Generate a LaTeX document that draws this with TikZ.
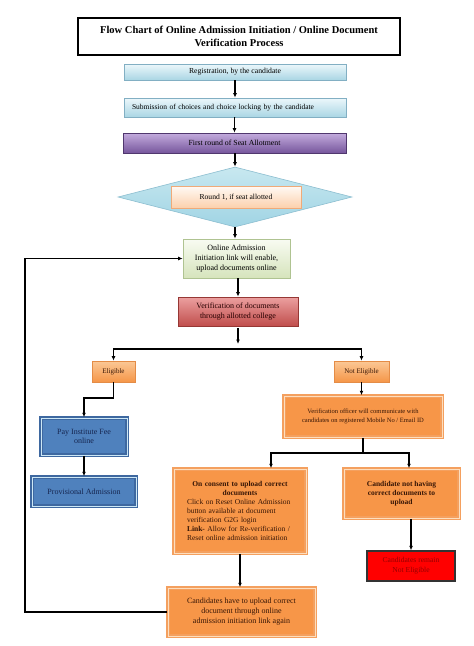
\documentclass[tikz,border=0pt]{standalone}
\usepackage{fontspec}
\setmainfont{Liberation Serif}
\usetikzlibrary{arrows.meta,shapes.geometric}
\definecolor{lbT}{RGB}{236,247,251}
\definecolor{lbM}{RGB}{170,214,228}
\definecolor{lbB}{RGB}{130,175,195}
\definecolor{puT}{RGB}{196,172,222}
\definecolor{puM}{RGB}{118,86,156}
\definecolor{puB}{RGB}{80,55,110}
\definecolor{diT}{RGB}{200,232,240}
\definecolor{diM}{RGB}{160,212,228}
\definecolor{diB}{RGB}{140,190,208}
\definecolor{peT}{RGB}{255,250,245}
\definecolor{peM}{RGB}{251,208,172}
\definecolor{peB}{RGB}{240,170,120}
\definecolor{grT}{RGB}{248,251,242}
\definecolor{grM}{RGB}{214,228,188}
\definecolor{grB}{RGB}{175,195,145}
\definecolor{rdT}{RGB}{236,160,160}
\definecolor{rdM}{RGB}{192,78,76}
\definecolor{rdB}{RGB}{150,55,52}
\definecolor{orT}{RGB}{251,200,150}
\definecolor{orM}{RGB}{245,150,72}
\definecolor{orB}{RGB}{228,140,70}
\definecolor{orF}{RGB}{247,150,72}
\definecolor{orD}{RGB}{244,160,95}
\definecolor{orL}{RGB}{253,222,190}
\definecolor{orTxt}{RGB}{55,22,6}
\definecolor{blF}{RGB}{79,129,189}
\definecolor{blD}{RGB}{62,104,160}
\definecolor{blL}{RGB}{205,232,246}
\definecolor{blTxt}{RGB}{22,38,80}
\definecolor{rmTxt}{RGB}{150,0,0}
\begin{document}
\begin{tikzpicture}[x=1pt,y=-1pt,
  base/.style={rectangle, inner sep=2pt, align=center, text=black},
  arr/.style={-{Latex[length=4.5pt,width=3.8pt]}, line width=1.3pt, draw=black},
  ln/.style={line width=1.3pt, draw=black},
  titlebox/.style={base, draw=black, line width=1.8pt, font=\fontsize{10.5}{13.5}\selectfont\bfseries},
  cyanbox/.style={base, draw=lbB, line width=0.6pt, top color=lbT, bottom color=lbM, font=\fontsize{7.7}{9.5}\selectfont},
  purplebox/.style={base, draw=puB, line width=0.6pt, top color=puT, bottom color=puM, font=\fontsize{7.8}{9.5}\selectfont},
  dia/.style={diamond, draw=diB, line width=0.6pt, top color=diT, bottom color=diM, inner sep=0pt},
  peachbox/.style={base, draw=peB, line width=0.8pt, top color=peT, bottom color=peM, font=\fontsize{7.6}{9.5}\selectfont},
  greenbox/.style={base, draw=grB, line width=0.6pt, top color=grT, bottom color=grM, font=\fontsize{8}{10}\selectfont},
  redgbox/.style={base, draw=rdB, line width=0.6pt, top color=rdT, bottom color=rdM, font=\fontsize{8}{10}\selectfont, text=black!85!red},
  osmall/.style={base, draw=orB, line width=0.6pt, top color=orT, bottom color=orM, font=\fontsize{7}{9}\selectfont, text=orTxt},
  obox/.style={base, fill=orF, draw=orD, line width=1.5pt, double=orL, double distance=0.7pt, text=orTxt},
  bbox/.style={base, fill=blF, draw=blD, line width=1.5pt, double=blL, double distance=0.8pt, text=blTxt, font=\fontsize{8}{9.5}\selectfont},
  remainbox/.style={base, fill=red, draw=black!80, line width=1.2pt, text=rmTxt, font=\fontsize{7.6}{10}\selectfont}
]
\useasboundingbox[fill=white] (0,0) rectangle (474,646);

\node[titlebox, minimum width=322pt, minimum height=37pt] (title) at (239,36.5)
  {Flow Chart of Online Admission Initiation / Online Document\\Verification Process};

\node[cyanbox, minimum width=222pt, minimum height=16pt] (reg) at (235,72) {Registration, by the candidate};
\node[cyanbox, minimum width=222pt, minimum height=19pt, text width=206pt, inner xsep=8pt, align=left, font=\fontsize{7.5}{9.5}\selectfont] (sub) at (235,107.5)
  {Submission of choices and choice locking by the candidate};
\node[purplebox, minimum width=223pt, minimum height=20pt] (first) at (234.5,143) {First round of Seat Allotment};
\node[dia, minimum width=234pt, minimum height=60pt] (dmd) at (235,197) {};
\node[peachbox, minimum width=130pt, minimum height=22pt] (round) at (236,197) {Round 1, if seat allotted};

\node[greenbox, minimum width=107pt, minimum height=39pt] (green) at (236.5,258.5)
  {Online Admission\\Initiation link will enable,\\upload documents online};
\node[redgbox, minimum width=120pt, minimum height=29pt] (verif) at (238,311.5)
  {Verification of documents\\through allotted college};

\coordinate (s1) at (238,344);
\coordinate (hs) at (238,349);

\node[osmall, minimum width=43pt, minimum height=21pt] (elig) at (113.5,371.5) {Eligible};
\node[osmall, minimum width=55pt, minimum height=21pt] (nelig) at (361.5,371.5) {Not Eligible};

\node[bbox, minimum width=86pt, minimum height=37pt] (pay) at (84,436.5) {Pay Institute Fee\\online};
\node[bbox, minimum width=104pt, minimum height=29pt] (prov) at (84,491.5) {Provisional Admission};

\node[obox, minimum width=158pt, minimum height=41pt, font=\fontsize{6.5}{8.5}\selectfont] (vo) at (363,416.5)
  {Verification officer will communicate with\\candidates on registered Mobile No / Email ID};

\node[obox, minimum width=132pt, minimum height=84pt, text width=106pt, inner xsep=12pt, align=left, font=\fontsize{7.5}{9}\selectfont] (consent) at (240,511)
  {\makebox[\hsize]{\textbf{On consent to upload correct}}\\
   \makebox[\hsize]{\textbf{documents}}\\
   Click on Reset Online Admission\\
   button available at document\\
   verification G2G login\\
   \textbf{Link-} Allow for Re-verification /\\
   Reset online admission initiation};

\node[obox, minimum width=115pt, minimum height=49pt, font=\fontsize{7.5}{9}\selectfont\bfseries] (nothave) at (401.5,493.5)
  {Candidate not having\\correct documents to\\upload};

\node[remainbox, minimum width=88pt, minimum height=30pt] (remain) at (411,566)
  {Candidates remain\\Not Eligible};

\node[obox, minimum width=147pt, minimum height=48pt, font=\fontsize{8}{10}\selectfont] (upload) at (241.5,612)
  {Candidates have to upload correct\\document through online\\admission initiation link again};

\coordinate (fb) at (25,612);
\coordinate (e1) at (113.5,398);
\coordinate (v1) at (363,453);

% connectors
\draw[arr] (reg) -- (sub);
\draw[arr] (sub) -- (first.north |- sub.south) -- (first.north);
\draw[arr] (first.south -| dmd.north) -- (dmd.north);
\draw[arr] (dmd.south) -- (green.north -| dmd.south);
\draw[arr] (green.south -| verif.north) -- (verif.north);
\draw[arr] ([yshift=-2pt]verif.south) -- (s1);
\draw[arr] (hs) -| (elig.north);
\draw[arr] (hs) -| (nelig.north);
\draw[arr] (elig.south) -- (e1) -| (pay.north);
\draw[arr] (pay) -- (prov);
\draw[arr] (nelig.south) -- (vo.north -| nelig.south);
\draw[ln] (vo.south) -- (v1);
\draw[arr] (v1) -| ([xshift=31pt]consent.north);
\draw[arr] (v1) -| ([xshift=7.5pt]nothave.north);
\draw[arr] (nothave.south -| remain.north) -- (remain.north);
\draw[arr] (consent.south) -- (upload.north -| consent.south);
\draw[arr] (upload.west) -- (fb) |- (green.west);
\end{tikzpicture}
\end{document}
